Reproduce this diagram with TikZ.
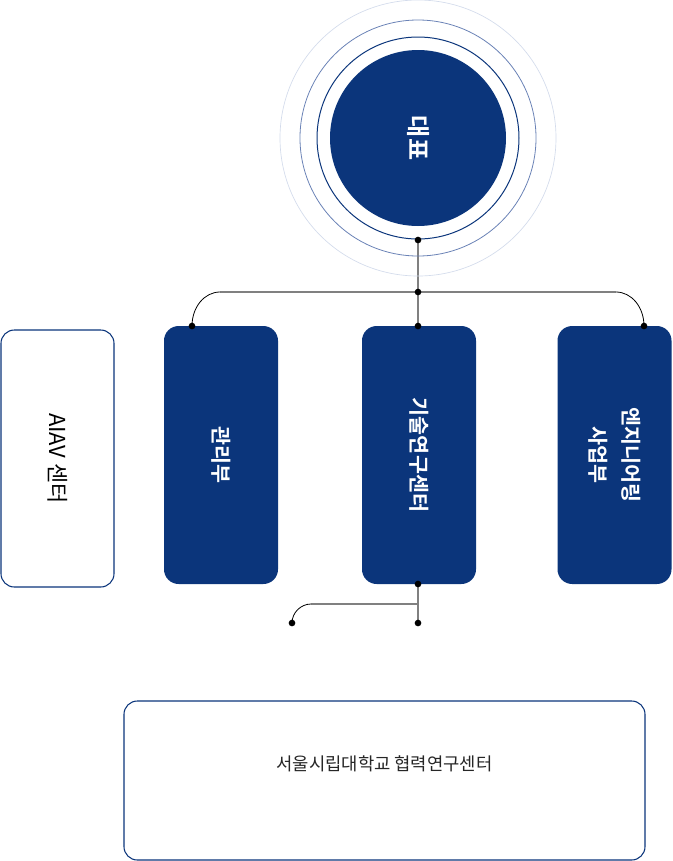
\documentclass[tikz,border=0pt]{standalone}
\usepackage{fontspec}
\setmainfont{Noto Sans CJK KR}[BoldFont={Noto Sans CJK KR Bold}]
\usepackage{tikz}
\usetikzlibrary{backgrounds}
\definecolor{navy}{HTML}{0B357B}
\definecolor{ringmid}{HTML}{6A82B6}
\definecolor{ringfar}{HTML}{D3DBEB}

\begin{document}
\begin{tikzpicture}[x=0.75pt,y=-0.75pt,
  ceo/.style={circle,fill=navy,minimum size=132pt,inner sep=0pt,text=white,
              font=\bfseries\fontsize{18}{20}\selectfont,rotate=-90},
  dept/.style={fill=navy,rounded corners=11pt,minimum width=193.5pt,
               minimum height=85.5pt,text=white,align=center,
               font=\bfseries\fontsize{15.5}{25}\selectfont,rotate=-90},
  side/.style={draw=navy,line width=0.8pt,fill=white,rounded corners=10pt},
  dot/.style={circle,fill=black,inner sep=0pt,minimum size=5pt},
  trunk/.style={draw=gray,line width=1pt},
  curveline/.style={draw=black,line width=0.6pt}]
\useasboundingbox (0,0) rectangle (672,861);

% head
\node[ceo] (ceo) at (418,138) {대표};
\draw[navy,line width=0.75pt] (ceo.center) circle[radius=101];
\draw[ringmid,line width=0.6pt] (ceo.center) circle[radius=118];
\draw[ringfar,line width=0.5pt] (ceo.center) circle[radius=138];

% departments
\node[side,rotate=-90,minimum width=192.75pt,minimum height=84.75pt,
      font=\fontsize{16.5}{18}\selectfont] (aiav) at (57.5,458.5) {AIAV 센터};
\node[dept] (mgmt) at (221,455) {관리부};
\node[dept] (tech) at (419,455) {기술연구센터};
\node[dept] (eng) at (614.5,455) {엔지니어링\\사업부};
\node[side,minimum width=390.75pt,minimum height=119.25pt,text depth=26pt,
      text=black!85,font=\fontsize{13.3}{15}\selectfont] (univ) at (384.5,780.5)
      {서울시립대학교 협력연구센터};

% joints
\node[dot] (pc) at (418,240) {};
\node[dot] (hub) at (418,292) {};
\node[dot] (pm) at (192,326) {};
\node[dot] (pt) at (418,326) {};
\node[dot] (pe) at (644,326) {};
\node[dot] (tb) at (418,584) {};
\node[dot] (tl) at (418,623) {};
\node[dot] (tr) at (292,623) {};
\coordinate (hl) at (220,292);
\coordinate (hr) at (616,292);
\coordinate (lj) at (418,604);
\coordinate (ll) at (311,604);

\begin{scope}[on background layer]
\draw[trunk] (pc.center) -- (hub.center) -- (pt.center);
\draw[trunk] (hl) -- (hr);
\draw[curveline] (hl) .. controls (204.5,292) and (192,307) .. (pm.center);
\draw[curveline] (hr) .. controls (631.5,292) and (644,307) .. (pe.center);
\draw[trunk] (tb.center) -- (tl.center);
\draw[trunk] (lj) -- (ll);
\draw[curveline] (ll) .. controls (301,604) and (292,612.5) .. (tr.center);
\end{scope}
\end{tikzpicture}
\end{document}
